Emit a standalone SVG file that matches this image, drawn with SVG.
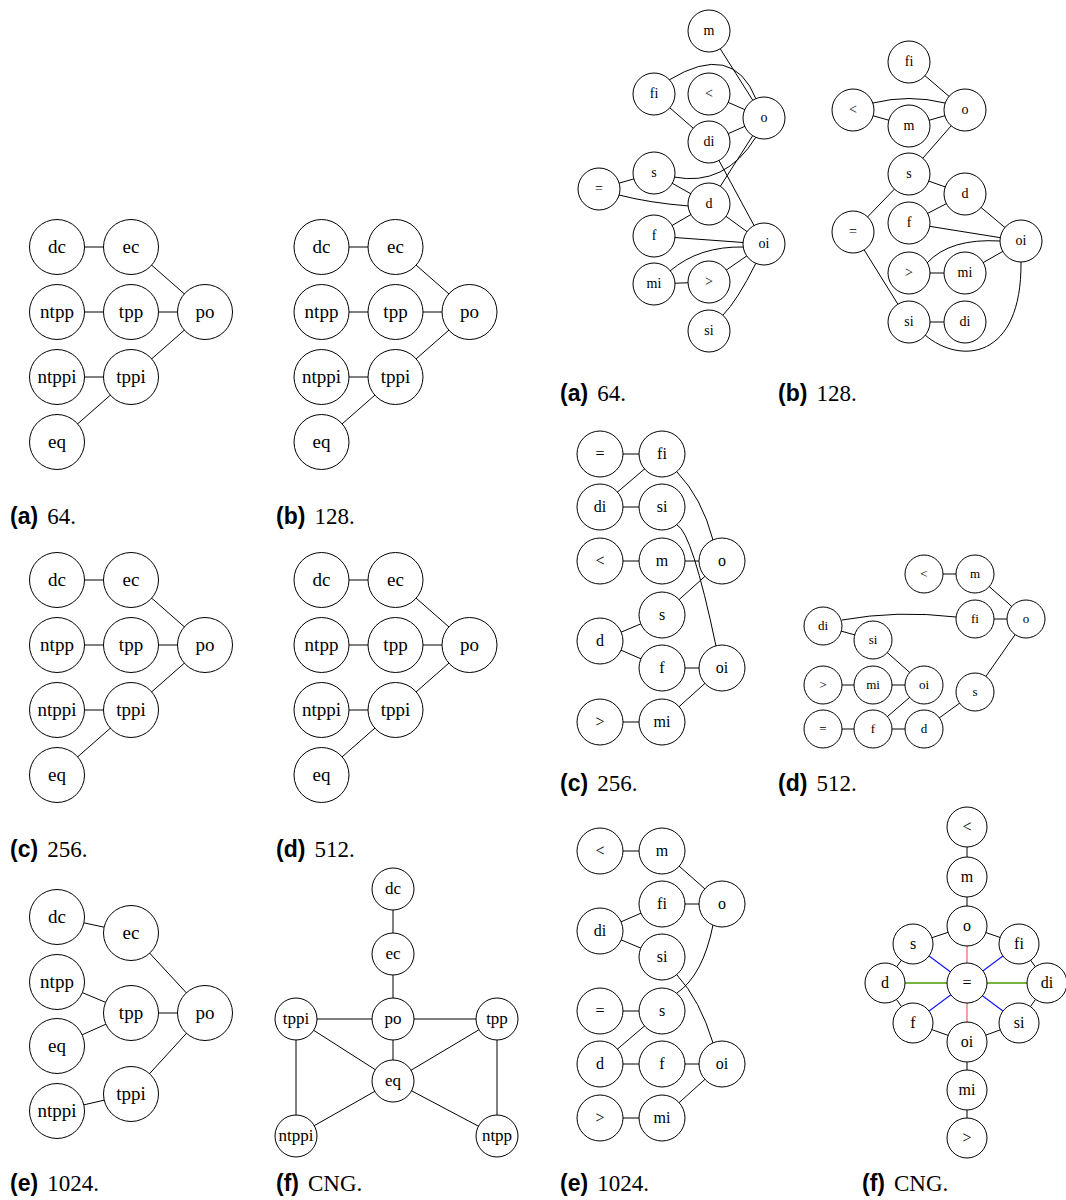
<svg xmlns="http://www.w3.org/2000/svg" width="1066" height="1200" viewBox="0 0 1066 1200">
<style>
.bg{fill:#fff}
.e{stroke:#000;stroke-width:1;fill:none}
.pink{stroke:#ef7a7a;stroke-width:1.4;fill:none}
.blue{stroke:#1414ff;stroke-width:1.2;fill:none}
.green{stroke:#4a9a00;stroke-width:1.4;fill:none}
circle{fill:#fff;stroke:#000;stroke-width:1}
text{font-family:"Liberation Serif","Times New Roman",serif;fill:#000;text-anchor:middle}
.L text{font-size:19px}
.A text{font-size:14px}
.C text{font-size:16px}
.D text{font-size:13px}
.F text{font-size:16px}
.G text{font-size:17px}
text.cap{font-size:23px;text-anchor:start}
.lb{font-family:"Liberation Sans",Arial,sans-serif;font-weight:bold}
.num{font-family:"Liberation Serif","Times New Roman",serif}
</style>
<rect class="bg" width="1066" height="1200"/>

<g id="connectors">
  <g id="conn-left-a">
    <path class="e" d="M57,247H131M131,247L205,312M57,312H205M57,377H131M131,377L205,312M131,377L57,442"/>
  </g>
  <g id="conn-left-b" transform="translate(264.5,0)">
    <path class="e" d="M57,247H131M131,247L205,312M57,312H205M57,377H131M131,377L205,312M131,377L57,442"/>
  </g>
  <g id="conn-left-c" transform="translate(0,333)">
    <path class="e" d="M57,247H131M131,247L205,312M57,312H205M57,377H131M131,377L205,312M131,377L57,442"/>
  </g>
  <g id="conn-left-d" transform="translate(264.5,333)">
    <path class="e" d="M57,247H131M131,247L205,312M57,312H205M57,377H131M131,377L205,312M131,377L57,442"/>
  </g>
  <g id="conn-left-e">
    <path class="e" d="M57,917L131,933M131,933L205,1013M57,982L131,1013M57,1046L131,1013M131,1013H205M131,1094L205,1013M57,1111L131,1094"/>
  </g>
  <g id="conn-left-f">
    <path class="e" d="M393,889V1081M296,1019H497M296,1019L393,1081M296,1019V1136M296,1136L393,1081M497,1019L393,1081M497,1019V1136M497,1136L393,1081"/>
  </g>
  <g id="conn-right-a">
    <path class="e" d="M709,31L764,118M709,94L764,118M654,94L709,142M709,142L764,118M709,204L764,118M599,189L654,173M654,173L709,204M709,142L764,244M709,204L764,244M654,236L709,204M654,236L764,244M654,284L709,282M709,282L764,244"/>
    <path class="e" d="M669,80Q733,41 756,99"/>
    <path class="e" d="M674,177Q725,187 756,137"/>
    <path class="e" d="M619,195Q650,203 689,206"/>
    <path class="e" d="M670,271Q699,246 744,247"/>
    <path class="e" d="M723,315Q737,301 756,263"/>
  </g>
  <g id="conn-right-b">
    <path class="e" d="M909,62L965,110M853,110L909,126M909,126L965,110M965,110L909,174M909,174L965,194M909,174L853,232M909,223L965,194M909,223L1021,241M965,194L1021,241M909,273H965M965,273L1021,241M853,232L909,322M909,322H965"/>
    <path class="e" d="M873,103Q909,94 945,103"/>
    <path class="e" d="M927,263Q950,238 1000,241"/>
    <path class="e" d="M925,335C960,365 1022,360 1021,262"/>
  </g>
  <g id="conn-right-c">
    <path class="e" d="M600,454H662M662,454L600,507M600,507H662M600,561H722M662,615L722,561M600,641L662,615M600,641L662,668M662,668H722M662,722L722,668M600,722H662"/>
    <path class="e" d="M677,472Q702,498 713,540"/>
    <path class="e" d="M677,525Q692,532 716,646"/>
  </g>
  <g id="conn-right-d">
    <path class="e" d="M924,574H975M975,574L1026,619M975,619H1026M823,626L873,640M873,640L924,685M823,685H924M924,685L873,729M823,729H924M924,729L975,692M975,692L1026,619"/>
    <path class="e" d="M842,620Q897,610 956,617"/>
  </g>
  <g id="conn-right-e">
    <path class="e" d="M600,851H662M662,851L722,904M662,904H722M600,931L662,904M600,931L662,957M600,1011H662M600,1064L662,1011M600,1064H722M662,1118L722,1064M600,1118H662"/>
    <path class="e" d="M677,975Q700,1000 713,1043"/>
    <path class="e" d="M677,993Q703,975 713,925"/>
  </g>
  <g id="conn-right-f">
    <path class="e" d="M967,827V926M967,926L913,944M967,926L1019,944M913,944L885,983M1019,944L1047,983M885,983L913,1023M1047,983L1019,1023M913,1023L967,1042M1019,1023L967,1042M967,1042V1138"/>
    <path class="pink" d="M967,926V1042"/>
    <path class="blue" d="M913,944L1019,1023M1019,944L913,1023"/>
    <path class="green" d="M885,983H1047"/>
  </g>
</g>

<g class="L" id="left-a">
  <g id="la-dc"><circle cx="57" cy="247" r="27.5"/><text x="57" y="253">dc</text></g>
  <g id="la-ec"><circle cx="131" cy="247" r="27.5"/><text x="131" y="253">ec</text></g>
  <g id="la-ntpp"><circle cx="57" cy="312" r="27.5"/><text x="57" y="318">ntpp</text></g>
  <g id="la-tpp"><circle cx="131" cy="312" r="27.5"/><text x="131" y="318">tpp</text></g>
  <g id="la-po"><circle cx="205" cy="312" r="27.5"/><text x="205" y="318">po</text></g>
  <g id="la-ntppi"><circle cx="57" cy="377" r="27.5"/><text x="57" y="383">ntppi</text></g>
  <g id="la-tppi"><circle cx="131" cy="377" r="27.5"/><text x="131" y="383">tppi</text></g>
  <g id="la-eq"><circle cx="57" cy="442" r="27.5"/><text x="57" y="448">eq</text></g>
</g>
<g class="L" id="left-b" transform="translate(264.5,0)">
  <g id="lb-dc"><circle cx="57" cy="247" r="27.5"/><text x="57" y="253">dc</text></g>
  <g id="lb-ec"><circle cx="131" cy="247" r="27.5"/><text x="131" y="253">ec</text></g>
  <g id="lb-ntpp"><circle cx="57" cy="312" r="27.5"/><text x="57" y="318">ntpp</text></g>
  <g id="lb-tpp"><circle cx="131" cy="312" r="27.5"/><text x="131" y="318">tpp</text></g>
  <g id="lb-po"><circle cx="205" cy="312" r="27.5"/><text x="205" y="318">po</text></g>
  <g id="lb-ntppi"><circle cx="57" cy="377" r="27.5"/><text x="57" y="383">ntppi</text></g>
  <g id="lb-tppi"><circle cx="131" cy="377" r="27.5"/><text x="131" y="383">tppi</text></g>
  <g id="lb-eq"><circle cx="57" cy="442" r="27.5"/><text x="57" y="448">eq</text></g>
</g>
<g class="L" id="left-c" transform="translate(0,333)">
  <g id="lc-dc"><circle cx="57" cy="247" r="27.5"/><text x="57" y="253">dc</text></g>
  <g id="lc-ec"><circle cx="131" cy="247" r="27.5"/><text x="131" y="253">ec</text></g>
  <g id="lc-ntpp"><circle cx="57" cy="312" r="27.5"/><text x="57" y="318">ntpp</text></g>
  <g id="lc-tpp"><circle cx="131" cy="312" r="27.5"/><text x="131" y="318">tpp</text></g>
  <g id="lc-po"><circle cx="205" cy="312" r="27.5"/><text x="205" y="318">po</text></g>
  <g id="lc-ntppi"><circle cx="57" cy="377" r="27.5"/><text x="57" y="383">ntppi</text></g>
  <g id="lc-tppi"><circle cx="131" cy="377" r="27.5"/><text x="131" y="383">tppi</text></g>
  <g id="lc-eq"><circle cx="57" cy="442" r="27.5"/><text x="57" y="448">eq</text></g>
</g>
<g class="L" id="left-d" transform="translate(264.5,333)">
  <g id="ld-dc"><circle cx="57" cy="247" r="27.5"/><text x="57" y="253">dc</text></g>
  <g id="ld-ec"><circle cx="131" cy="247" r="27.5"/><text x="131" y="253">ec</text></g>
  <g id="ld-ntpp"><circle cx="57" cy="312" r="27.5"/><text x="57" y="318">ntpp</text></g>
  <g id="ld-tpp"><circle cx="131" cy="312" r="27.5"/><text x="131" y="318">tpp</text></g>
  <g id="ld-po"><circle cx="205" cy="312" r="27.5"/><text x="205" y="318">po</text></g>
  <g id="ld-ntppi"><circle cx="57" cy="377" r="27.5"/><text x="57" y="383">ntppi</text></g>
  <g id="ld-tppi"><circle cx="131" cy="377" r="27.5"/><text x="131" y="383">tppi</text></g>
  <g id="ld-eq"><circle cx="57" cy="442" r="27.5"/><text x="57" y="448">eq</text></g>
</g>
<g class="L" id="left-e">
  <g id="le-dc"><circle cx="57" cy="917" r="27.5"/><text x="57" y="923">dc</text></g>
  <g id="le-ec"><circle cx="131" cy="933" r="27.5"/><text x="131" y="939">ec</text></g>
  <g id="le-ntpp"><circle cx="57" cy="982" r="27.5"/><text x="57" y="988">ntpp</text></g>
  <g id="le-tpp"><circle cx="131" cy="1013" r="27.5"/><text x="131" y="1019">tpp</text></g>
  <g id="le-po"><circle cx="205" cy="1013" r="27.5"/><text x="205" y="1019">po</text></g>
  <g id="le-eq"><circle cx="57" cy="1046" r="27.5"/><text x="57" y="1052">eq</text></g>
  <g id="le-tppi"><circle cx="131" cy="1094" r="27.5"/><text x="131" y="1100">tppi</text></g>
  <g id="le-ntppi"><circle cx="57" cy="1111" r="27.5"/><text x="57" y="1117">ntppi</text></g>
</g>
<g class="G" id="left-f">
  <g id="lf-dc"><circle cx="393" cy="889" r="21"/><text x="393" y="894">dc</text></g>
  <g id="lf-ec"><circle cx="393" cy="954" r="21"/><text x="393" y="959">ec</text></g>
  <g id="lf-po"><circle cx="393" cy="1019" r="21"/><text x="393" y="1024">po</text></g>
  <g id="lf-tppi"><circle cx="296" cy="1019" r="21"/><text x="296" y="1024">tppi</text></g>
  <g id="lf-tpp"><circle cx="497" cy="1019" r="21"/><text x="497" y="1024">tpp</text></g>
  <g id="lf-eq"><circle cx="393" cy="1081" r="21"/><text x="393" y="1086">eq</text></g>
  <g id="lf-ntppi"><circle cx="296" cy="1136" r="21"/><text x="296" y="1141">ntppi</text></g>
  <g id="lf-ntpp"><circle cx="497" cy="1136" r="21"/><text x="497" y="1141">ntpp</text></g>
</g>

<g class="A" id="right-a">
  <g id="ra-m"><circle cx="709" cy="31" r="21"/><text x="709" y="35">m</text></g>
  <g id="ra-fi"><circle cx="654" cy="94" r="21"/><text x="654" y="98">fi</text></g>
  <g id="ra-lt"><circle cx="709" cy="94" r="21"/><text x="709" y="98">&lt;</text></g>
  <g id="ra-o"><circle cx="764" cy="118" r="21"/><text x="764" y="122">o</text></g>
  <g id="ra-di"><circle cx="709" cy="142" r="21"/><text x="709" y="146">di</text></g>
  <g id="ra-s"><circle cx="654" cy="173" r="21"/><text x="654" y="177">s</text></g>
  <g id="ra-eq"><circle cx="599" cy="189" r="21"/><text x="599" y="193">=</text></g>
  <g id="ra-d"><circle cx="709" cy="204" r="21"/><text x="709" y="208">d</text></g>
  <g id="ra-f"><circle cx="654" cy="236" r="21"/><text x="654" y="240">f</text></g>
  <g id="ra-oi"><circle cx="764" cy="244" r="21"/><text x="764" y="248">oi</text></g>
  <g id="ra-mi"><circle cx="654" cy="284" r="21"/><text x="654" y="288">mi</text></g>
  <g id="ra-gt"><circle cx="709" cy="282" r="21"/><text x="709" y="286">&gt;</text></g>
  <g id="ra-si"><circle cx="709" cy="331" r="21"/><text x="709" y="335">si</text></g>
</g>
<g class="A" id="right-b">
  <g id="rb-fi"><circle cx="909" cy="62" r="21"/><text x="909" y="66">fi</text></g>
  <g id="rb-lt"><circle cx="853" cy="110" r="21"/><text x="853" y="114">&lt;</text></g>
  <g id="rb-m"><circle cx="909" cy="126" r="21"/><text x="909" y="130">m</text></g>
  <g id="rb-o"><circle cx="965" cy="110" r="21"/><text x="965" y="114">o</text></g>
  <g id="rb-s"><circle cx="909" cy="174" r="21"/><text x="909" y="178">s</text></g>
  <g id="rb-d"><circle cx="965" cy="194" r="21"/><text x="965" y="198">d</text></g>
  <g id="rb-eq"><circle cx="853" cy="232" r="21"/><text x="853" y="236">=</text></g>
  <g id="rb-f"><circle cx="909" cy="223" r="21"/><text x="909" y="227">f</text></g>
  <g id="rb-oi"><circle cx="1021" cy="241" r="21"/><text x="1021" y="245">oi</text></g>
  <g id="rb-gt"><circle cx="909" cy="273" r="21"/><text x="909" y="277">&gt;</text></g>
  <g id="rb-mi"><circle cx="965" cy="273" r="21"/><text x="965" y="277">mi</text></g>
  <g id="rb-si"><circle cx="909" cy="322" r="21"/><text x="909" y="326">si</text></g>
  <g id="rb-di"><circle cx="965" cy="322" r="21"/><text x="965" y="326">di</text></g>
</g>
<g class="C" id="right-c">
  <g id="rc-eq"><circle cx="600" cy="454" r="23"/><text x="600" y="459">=</text></g>
  <g id="rc-fi"><circle cx="662" cy="454" r="23"/><text x="662" y="459">fi</text></g>
  <g id="rc-di"><circle cx="600" cy="507" r="23"/><text x="600" y="512">di</text></g>
  <g id="rc-si"><circle cx="662" cy="507" r="23"/><text x="662" y="512">si</text></g>
  <g id="rc-lt"><circle cx="600" cy="561" r="23"/><text x="600" y="566">&lt;</text></g>
  <g id="rc-m"><circle cx="662" cy="561" r="23"/><text x="662" y="566">m</text></g>
  <g id="rc-o"><circle cx="722" cy="561" r="23"/><text x="722" y="566">o</text></g>
  <g id="rc-s"><circle cx="662" cy="615" r="23"/><text x="662" y="620">s</text></g>
  <g id="rc-d"><circle cx="600" cy="641" r="23"/><text x="600" y="646">d</text></g>
  <g id="rc-f"><circle cx="662" cy="668" r="23"/><text x="662" y="673">f</text></g>
  <g id="rc-oi"><circle cx="722" cy="668" r="23"/><text x="722" y="673">oi</text></g>
  <g id="rc-gt"><circle cx="600" cy="722" r="23"/><text x="600" y="727">&gt;</text></g>
  <g id="rc-mi"><circle cx="662" cy="722" r="23"/><text x="662" y="727">mi</text></g>
</g>
<g class="D" id="right-d">
  <g id="rd-lt"><circle cx="924" cy="574" r="19"/><text x="924" y="578">&lt;</text></g>
  <g id="rd-m"><circle cx="975" cy="574" r="19"/><text x="975" y="578">m</text></g>
  <g id="rd-fi"><circle cx="975" cy="619" r="19"/><text x="975" y="623">fi</text></g>
  <g id="rd-o"><circle cx="1026" cy="619" r="19"/><text x="1026" y="623">o</text></g>
  <g id="rd-di"><circle cx="823" cy="626" r="19"/><text x="823" y="630">di</text></g>
  <g id="rd-si"><circle cx="873" cy="640" r="19"/><text x="873" y="644">si</text></g>
  <g id="rd-gt"><circle cx="823" cy="685" r="19"/><text x="823" y="689">&gt;</text></g>
  <g id="rd-mi"><circle cx="873" cy="685" r="19"/><text x="873" y="689">mi</text></g>
  <g id="rd-oi"><circle cx="924" cy="685" r="19"/><text x="924" y="689">oi</text></g>
  <g id="rd-s"><circle cx="975" cy="692" r="19"/><text x="975" y="696">s</text></g>
  <g id="rd-eq"><circle cx="823" cy="729" r="19"/><text x="823" y="733">=</text></g>
  <g id="rd-f"><circle cx="873" cy="729" r="19"/><text x="873" y="733">f</text></g>
  <g id="rd-d"><circle cx="924" cy="729" r="19"/><text x="924" y="733">d</text></g>
</g>
<g class="C" id="right-e">
  <g id="re-lt"><circle cx="600" cy="851" r="23"/><text x="600" y="856">&lt;</text></g>
  <g id="re-m"><circle cx="662" cy="851" r="23"/><text x="662" y="856">m</text></g>
  <g id="re-fi"><circle cx="662" cy="904" r="23"/><text x="662" y="909">fi</text></g>
  <g id="re-o"><circle cx="722" cy="904" r="23"/><text x="722" y="909">o</text></g>
  <g id="re-di"><circle cx="600" cy="931" r="23"/><text x="600" y="936">di</text></g>
  <g id="re-si"><circle cx="662" cy="957" r="23"/><text x="662" y="962">si</text></g>
  <g id="re-eq"><circle cx="600" cy="1011" r="23"/><text x="600" y="1016">=</text></g>
  <g id="re-s"><circle cx="662" cy="1011" r="23"/><text x="662" y="1016">s</text></g>
  <g id="re-d"><circle cx="600" cy="1064" r="23"/><text x="600" y="1069">d</text></g>
  <g id="re-f"><circle cx="662" cy="1064" r="23"/><text x="662" y="1069">f</text></g>
  <g id="re-oi"><circle cx="722" cy="1064" r="23"/><text x="722" y="1069">oi</text></g>
  <g id="re-gt"><circle cx="600" cy="1118" r="23"/><text x="600" y="1123">&gt;</text></g>
  <g id="re-mi"><circle cx="662" cy="1118" r="23"/><text x="662" y="1123">mi</text></g>
</g>
<g class="F" id="right-f">
  <g id="rf-lt"><circle cx="967" cy="827" r="20"/><text x="967" y="832">&lt;</text></g>
  <g id="rf-m"><circle cx="967" cy="877" r="20"/><text x="967" y="882">m</text></g>
  <g id="rf-o"><circle cx="967" cy="926" r="20"/><text x="967" y="931">o</text></g>
  <g id="rf-s"><circle cx="913" cy="944" r="20"/><text x="913" y="949">s</text></g>
  <g id="rf-fi"><circle cx="1019" cy="944" r="20"/><text x="1019" y="949">fi</text></g>
  <g id="rf-d"><circle cx="885" cy="983" r="20"/><text x="885" y="988">d</text></g>
  <g id="rf-eq"><circle cx="967" cy="983" r="20"/><text x="967" y="988">=</text></g>
  <g id="rf-di"><circle cx="1047" cy="983" r="20"/><text x="1047" y="988">di</text></g>
  <g id="rf-f"><circle cx="913" cy="1023" r="20"/><text x="913" y="1028">f</text></g>
  <g id="rf-si"><circle cx="1019" cy="1023" r="20"/><text x="1019" y="1028">si</text></g>
  <g id="rf-oi"><circle cx="967" cy="1042" r="20"/><text x="967" y="1047">oi</text></g>
  <g id="rf-mi"><circle cx="967" cy="1090" r="20"/><text x="967" y="1095">mi</text></g>
  <g id="rf-gt"><circle cx="967" cy="1138" r="20"/><text x="967" y="1143">&gt;</text></g>
</g>

<g id="captions">
  <text class="cap" x="10" y="524"><tspan class="lb">(a)</tspan><tspan class="num" dx="9">64.</tspan></text>
  <text class="cap" x="276" y="524"><tspan class="lb">(b)</tspan><tspan class="num" dx="9">128.</tspan></text>
  <text class="cap" x="10" y="857"><tspan class="lb">(c)</tspan><tspan class="num" dx="9">256.</tspan></text>
  <text class="cap" x="276" y="857"><tspan class="lb">(d)</tspan><tspan class="num" dx="9">512.</tspan></text>
  <text class="cap" x="10" y="1191"><tspan class="lb">(e)</tspan><tspan class="num" dx="9">1024.</tspan></text>
  <text class="cap" x="276" y="1191"><tspan class="lb">(f)</tspan><tspan class="num" dx="9">CNG.</tspan></text>
  <text class="cap" x="560" y="401"><tspan class="lb">(a)</tspan><tspan class="num" dx="9">64.</tspan></text>
  <text class="cap" x="778" y="401"><tspan class="lb">(b)</tspan><tspan class="num" dx="9">128.</tspan></text>
  <text class="cap" x="560" y="791"><tspan class="lb">(c)</tspan><tspan class="num" dx="9">256.</tspan></text>
  <text class="cap" x="778" y="791"><tspan class="lb">(d)</tspan><tspan class="num" dx="9">512.</tspan></text>
  <text class="cap" x="560" y="1191"><tspan class="lb">(e)</tspan><tspan class="num" dx="9">1024.</tspan></text>
  <text class="cap" x="862" y="1191"><tspan class="lb">(f)</tspan><tspan class="num" dx="9">CNG.</tspan></text>
</g>
</svg>
